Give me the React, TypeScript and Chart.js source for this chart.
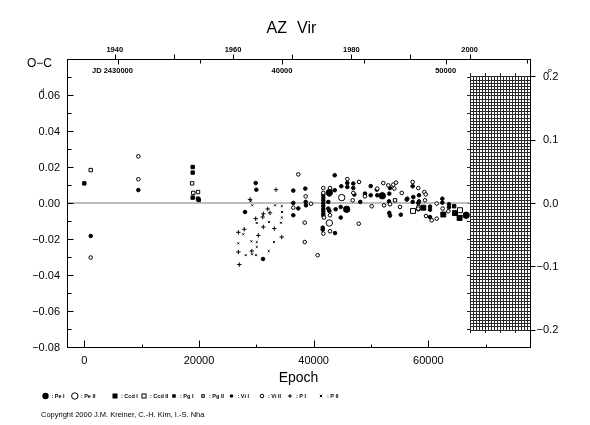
import React, { useEffect, useRef } from 'react';
import { Chart, registerables } from 'chart.js';

Chart.register(...registerables);

// ---- data: [epoch, O-C (days)] ----
const peI: number[][] = [[42730, 0.0058], [45760, -0.0035], [51970, 0.0040], [66600, -0.0068]];
const peII: number[][] = [[42730, -0.0111], [44890, 0.0030]];
const ccdI: number[][] = [[59120, -0.0026], [62610, -0.0064], [64650, -0.0056], [65450, -0.0083]];
const ccdII: number[][] = [[57330, -0.0044], [65520, -0.0040]];
const pgI: number[][] = [[0, 0.0109], [18900, 0.0200], [18900, 0.0169], [18900, 0.0030], [19830, 0.0024], [19950, 0.0017], [64500, -0.0018]];
const pgII: number[][] = [[1116, 0.0183], [18800, 0.0109], [19000, 0.0056], [19830, 0.0061], [54190, 0.0015]];
const viI: number[][] = [
  [1116, -0.0183], [9420, 0.0072], [28030, -0.0050], [29890, 0.0111], [30000, 0.0074], [31166, -0.0311],
  [36450, 0.0069], [36450, 0.0000], [36450, -0.0068], [37320, -0.0030], [38540, 0.0080], [38610, 0.0006], [38660, -0.0013],
  [41680, 0.0045], [41680, 0.0030], [41680, 0.0015], [41680, 0.0000], [41680, -0.0015], [41680, -0.0031], [41680, -0.0044],
  [41680, -0.0059], [41680, -0.0070], [41580, -0.0137], [41580, -0.0148],
  [42550, 0.0006], [42550, -0.0031], [42730, -0.0044], [42730, 0.0047], [42850, 0.0068],
  [43670, 0.0154], [43670, 0.0071], [43720, -0.0167], [43840, -0.0035],
  [44720, -0.0022], [44720, -0.0081], [44820, 0.0093], [45870, 0.0111], [45870, 0.0089],
  [46910, 0.0108], [46910, 0.0083], [47090, 0.0047], [48130, 0.0006], [48950, 0.0052],
  [49950, 0.0094], [49950, 0.0043], [51000, 0.0074], [51100, 0.0043],
  [53310, 0.0083], [53190, 0.0052], [53140, 0.0009], [53190, -0.0055], [53310, -0.0070], [55200, -0.0065],
  [56230, 0.0019], [56330, 0.0024], [57270, 0.0093], [57270, 0.0006], [57380, 0.0033],
  [58250, 0.0000], [58370, 0.0043], [58370, 0.0009], [58250, -0.0035],
  [60290, -0.0020], [60290, -0.0037], [60290, -0.0078], [62440, 0.0024], [62440, 0.0002],
  [63600, -0.0007], [63600, -0.0024],
];
const viII: number[][] = [
  [1116, -0.0303], [9420, 0.0259], [9420, 0.0132], [36450, -0.0026], [37320, 0.0159],
  [38610, 0.0037], [39540, -0.0004], [38440, -0.0109], [38440, -0.0217], [40700, -0.0290],
  [41680, 0.0083], [41680, 0.0056], [41800, -0.0081], [41680, -0.0170],
  [42850, 0.0083], [42850, -0.0157], [42850, -0.0068], [45870, 0.0133],
  [46910, 0.0056], [46810, 0.0015], [47910, 0.0117], [47860, -0.0115], [48950, 0.0037],
  [50120, -0.0018], [51100, 0.0080], [52150, 0.0111], [52270, -0.0013], [53020, 0.0098],
  [53310, -0.0007], [53890, 0.0102], [54360, 0.0113], [54060, 0.0080], [55060, -0.0022], [55360, 0.0056],
  [57270, 0.0117], [58250, 0.0083], [59300, 0.0061], [59540, 0.0048], [59420, 0.0015],
  [58250, -0.0022], [58250, -0.0031], [59590, -0.0072], [60590, -0.0096], [61460, -0.0087],
  [61460, -0.0003], [62500, -0.0031], [63480, -0.0046],
];
const pI: number[][] = [
  [26860, -0.0163], [27900, -0.0146], [26860, -0.0272], [27030, -0.0342], [28900, 0.0020], [29200, -0.0267],
  [29890, -0.0087], [30350, -0.0180], [31110, -0.0078], [31220, -0.0060], [31220, -0.0133], [31990, -0.0033],
  [32390, -0.0055], [33140, -0.0142], [33430, 0.0074], [34430, -0.0189],
];
const pII: number[][] = [
  [27730, -0.0174], [26860, -0.0224], [28150, -0.0290], [29020, 0.0010], [29300, -0.0013], [29130, -0.0213],
  [29250, -0.0285], [30070, -0.0111], [30070, -0.0217], [30070, -0.0244], [29940, -0.0290], [32160, -0.0267],
  [32210, -0.0106], [33080, -0.0217], [33260, -0.0013], [34300, -0.0110], [34430, -0.0081], [34480, -0.0050],
  [34430, -0.0017],
];

// ---- axes ----
const X_MIN = -3020, X_MAX = 77730;        // epoch
const JD_MIN = 26866, JD_MAX = 55155;      // JD - 2400000
const YR_MIN = 1931.93, YR_MAX = 2010.21;  // calendar years
const Y_MIN = -0.08, Y_MAX = 0.08;         // O-C days
const YR2 = 0.2275;                        // phase axis half range
const HATCH_START = 67270;                 // epoch of hatched area start
const leftTicks = [0.06, 0.04, 0.02, 0.0, -0.02, -0.04, -0.06, -0.08];
const rightTicks = [0.2, 0.1, 0.0, -0.1, -0.2];
const bottomTicks = [0, 20000, 40000, 60000];
const yearTicks = [1940, 1960, 1980, 2000];
const jdTicks = [40000, 50000];
const legendItems = ['Pe I', 'Pe II', 'Ccd I', 'Ccd II', 'Pg I', 'Pg II', 'Vi I', 'Vi II', 'P I', 'P II'];

const FONT = '"Liberation Sans", Arial, sans-serif';
const fmt = (v: number, d: number) => (v < 0 ? '\u2212' : '') + Math.abs(v).toFixed(d);

function drawSym(ctx: CanvasRenderingContext2D, kind: number, x: number, y: number) {
  ctx.save();
  ctx.lineWidth = 1;
  ctx.strokeStyle = '#000';
  ctx.fillStyle = '#000';
  const circ = (r: number, fill: boolean) => {
    ctx.beginPath(); ctx.arc(x, y, r, 0, Math.PI * 2);
    if (fill) ctx.fill(); else { ctx.fillStyle = '#fff'; ctx.fill(); ctx.stroke(); }
  };
  const sq = (s: number, fill: boolean) => {
    if (fill) ctx.fillRect(x - s / 2, y - s / 2, s, s);
    else { ctx.fillStyle = '#fff'; ctx.fillRect(x - s / 2, y - s / 2, s, s); ctx.strokeRect(x - s / 2 + 0.5, y - s / 2 + 0.5, s - 1, s - 1); }
  };
  switch (kind) {
    case 0: circ(3.2, true); break;
    case 1: circ(3.2, false); break;
    case 2: sq(5, true); break;
    case 3: sq(5, false); break;
    case 4: sq(3.5, true); break;
    case 5: sq(3.5, false); break;
    case 6: circ(1.8, true); break;
    case 7: circ(1.8, false); break;
    case 8: ctx.beginPath(); ctx.moveTo(x - 2, y); ctx.lineTo(x + 2, y); ctx.moveTo(x, y - 2); ctx.lineTo(x, y + 2); ctx.stroke(); break;
    case 9: ctx.beginPath(); ctx.moveTo(x - 1.2, y - 1.2); ctx.lineTo(x + 1.2, y + 1.2); ctx.moveTo(x + 1.2, y - 1.2); ctx.lineTo(x - 1.2, y + 1.2); ctx.stroke(); break;
  }
  ctx.restore();
}

const decor = {
  id: 'decor',
  beforeDatasetsDraw(chart: any) {
    const { ctx, chartArea: a, scales } = chart;
    const x = scales.x, y = scales.y, yR = scales.yR;
    ctx.save();
    // hatched region
    const hx0 = Math.round(x.getPixelForValue(HATCH_START));
    const hy0 = Math.round(yR.getPixelForValue(0.2));
    const hy1 = Math.round(yR.getPixelForValue(-0.2));
    ctx.strokeStyle = '#2a2a2a';
    ctx.lineWidth = 1;
    ctx.beginPath();
    for (let e = HATCH_START; e <= X_MAX; e += 520) {
      const px = Math.round(x.getPixelForValue(e)) + 0.5;
      ctx.moveTo(px, hy0); ctx.lineTo(px, hy1);
    }
    for (let v = -0.2; v <= 0.2 + 1e-9; v += 0.005) {
      const py = Math.round(yR.getPixelForValue(v)) + 0.5;
      ctx.moveTo(hx0, py); ctx.lineTo(a.right, py);
    }
    ctx.stroke();
    // hatch edge ticks
    ctx.beginPath();
    for (let v = -0.07; v <= 0.07 + 1e-9; v += 0.01) {
      const py = Math.round(y.getPixelForValue(v)) + 0.5;
      ctx.moveTo(hx0 - 3, py); ctx.lineTo(hx0, py);
    }
    for (let e = HATCH_START; e < X_MAX; e += 2600) {
      const px = Math.round(x.getPixelForValue(e)) + 0.5;
      ctx.moveTo(px, hy0 - 3); ctx.lineTo(px, hy0);
      ctx.moveTo(px, hy1); ctx.lineTo(px, hy1 + 3);
    }
    ctx.stroke();
    // zero line
    const y0 = y.getPixelForValue(0);
    ctx.strokeStyle = '#a8a8a8';
    ctx.lineWidth = 1.5;
    ctx.beginPath(); ctx.moveTo(a.left, y0); ctx.lineTo(hx0, y0); ctx.stroke();
    ctx.restore();
  },
  afterDraw(chart: any) {
    const { ctx, chartArea: a, scales } = chart;
    const x = scales.x, y = scales.y, yR = scales.yR, jd = scales.xJD, yr = scales.xYear;
    const L = Math.round(a.left) + 0.5, R = Math.round(a.right) + 0.5;
    const T = Math.round(a.top) + 0.5, B = Math.round(a.bottom) + 0.5;
    ctx.save();
    ctx.strokeStyle = '#000';
    ctx.lineWidth = 1;
    ctx.strokeRect(L, T, R - L, B - T);
    ctx.beginPath();
    // left ticks (inward)
    for (let i = -8; i <= 8; i++) {
      const py = Math.round(y.getPixelForValue(i * 0.01)) + 0.5;
      const len = i % 2 === 0 ? 6 : 4;
      ctx.moveTo(L, py); ctx.lineTo(L + len, py);
    }
    // bottom ticks (inward)
    for (let e = 0; e <= 70000; e += 10000) {
      const px = Math.round(x.getPixelForValue(e)) + 0.5;
      const len = e % 20000 === 0 ? 7 : 3;
      ctx.moveTo(px, B); ctx.lineTo(px, B - len);
    }
    // right ticks (outward)
    for (const v of rightTicks) {
      const py = Math.round(yR.getPixelForValue(v)) + 0.5;
      ctx.moveTo(R, py); ctx.lineTo(R + 5, py);
    }
    // top: year ticks (outward)
    for (let yv = 1940; yv <= 2000; yv += 10) {
      const px = Math.round(yr.getPixelForValue(yv)) + 0.5;
      ctx.moveTo(px, T); ctx.lineTo(px, T - 5);
    }
    // top: JD ticks (inward)
    for (let j = 30000; j <= 55000; j += 5000) {
      const px = Math.round(jd.getPixelForValue(j)) + 0.5;
      const len = j % 10000 === 0 ? 5 : 4;
      ctx.moveTo(px, T); ctx.lineTo(px, T + len);
    }
    ctx.stroke();

    ctx.fillStyle = '#000';
    // title
    ctx.font = `16px ${FONT}`;
    ctx.textBaseline = 'alphabetic';
    ctx.textAlign = 'right';
    ctx.fillText('AZ', 287, 33);
    ctx.textAlign = 'left';
    ctx.fillText('Vir', 297, 33);
    // O-C
    ctx.font = `12px ${FONT}`;
    ctx.fillText('O\u2212C', 27, 67);
    // left labels
    ctx.font = `11px ${FONT}`;
    ctx.textAlign = 'right';
    ctx.textBaseline = 'middle';
    for (const v of leftTicks) {
      ctx.fillText(fmt(v, 2), 60, y.getPixelForValue(v) + 0.5);
    }
    ctx.font = `6px ${FONT}`;
    ctx.textAlign = 'left';
    ctx.fillText('d', 41, y.getPixelForValue(0.06) - 5);
    // right labels
    ctx.font = `11px ${FONT}`;
    ctx.textAlign = 'left';
    for (const v of rightTicks) {
      const s = Math.abs(v).toFixed(1);
      const py = yR.getPixelForValue(v) + 0.5;
      ctx.fillText(s, 543, py);
      if (v < 0) {
        ctx.textAlign = 'right';
        ctx.fillText('\u2212', 543, py);
        ctx.textAlign = 'left';
      }
    }
    ctx.font = `6px ${FONT}`;
    ctx.fillText('P', 548, yR.getPixelForValue(0.2) - 5);
    // bottom labels
    ctx.font = `11px ${FONT}`;
    ctx.textAlign = 'center';
    ctx.textBaseline = 'middle';
    for (const e of bottomTicks) ctx.fillText(String(e), x.getPixelForValue(e), 361);
    ctx.font = `14px ${FONT}`;
    ctx.fillText('Epoch', (a.left + a.right) / 2, 378);
    // top labels
    ctx.font = `bold 7.5px ${FONT}`;
    for (const yv of yearTicks) ctx.fillText(String(yv), yr.getPixelForValue(yv), 50);
    for (const j of jdTicks) ctx.fillText(String(j), jd.getPixelForValue(j), 71);
    const base = 'JD 2430000';
    const num = '2430000';
    const wNum = ctx.measureText(num).width;
    const wAll = ctx.measureText(base).width;
    ctx.textAlign = 'left';
    ctx.fillText(base, jd.getPixelForValue(30000) + wNum / 2 - wAll, 71);
    // legend
    const legX = [45.5, 74.8, 115, 144, 174, 203, 231.5, 262, 290, 321];
    ctx.font = `bold 5.5px ${FONT}`;
    ctx.textAlign = 'left';
    legendItems.forEach((lab, i) => {
      drawSym(ctx, i, legX[i], 396);
      ctx.fillText(': ' + lab, legX[i] + 6, 396.5);
    });
    // copyright
    ctx.font = `7.5px ${FONT}`;
    ctx.fillText('Copyright 2000 J.M. Kreiner, C.-H. Kim, I.-S. Nha', 41, 415);
    ctx.restore();
  },
};

function mk(label: string, pts: number[][], style: string, r: number, fill: boolean) {
  return {
    label,
    data: pts.map(([ex, oc]) => ({ x: ex, y: oc })),
    pointStyle: style,
    pointRadius: r,
    pointHoverRadius: r,
    pointBackgroundColor: fill ? '#000' : '#fff',
    pointBorderColor: '#000',
    pointBorderWidth: 1,
    showLine: false,
    xAxisID: 'x',
    yAxisID: 'y',
  };
}

export default function App() {
  const ref = useRef<HTMLCanvasElement | null>(null);
  useEffect(() => {
    if (!ref.current) return;
    const hidden = { ticks: { display: false }, grid: { display: false }, border: { display: false } };
    const chart = new Chart(ref.current, {
      type: 'scatter',
      data: {
        datasets: [
          mk('P II', pII, 'crossRot', 1.3, true),
          mk('P I', pI, 'cross', 2.2, true),
          mk('Vi II', viII, 'circle', 1.8, false),
          mk('Vi I', viI, 'circle', 1.8, true),
          mk('Pg II', pgII, 'rect', 2.4, false),
          mk('Pg I', pgI, 'rect', 2.4, true),
          mk('Ccd II', ccdII, 'rect', 3.5, false),
          mk('Ccd I', ccdI, 'rect', 3.5, true),
          mk('Pe II', peII, 'circle', 3.2, false),
          mk('Pe I', peI, 'circle', 3.2, true),
        ] as any,
      },
      options: {
        responsive: false,
        animation: false,
        devicePixelRatio: 1,
        layout: { padding: 0 },
        plugins: { legend: { display: false }, tooltip: { enabled: false }, title: { display: false } },
        scales: {
          x: { type: 'linear', position: 'bottom', min: X_MIN, max: X_MAX, ...hidden, afterFit: (s: any) => { s.height = 78; } },
          xJD: { type: 'linear', axis: 'x', position: 'top', min: JD_MIN, max: JD_MAX, ...hidden, afterFit: (s: any) => { s.height = 59; } },
          xYear: { type: 'linear', axis: 'x', position: 'top', display: false, min: YR_MIN, max: YR_MAX },
          y: { type: 'linear', position: 'left', min: Y_MIN, max: Y_MAX, ...hidden, afterFit: (s: any) => { s.width = 67; } },
          yR: { type: 'linear', position: 'right', min: -YR2, max: YR2, ...hidden, afterFit: (s: any) => { s.width = 60; } },
        } as any,
      },
      plugins: [decor],
    });
    return () => chart.destroy();
  }, []);
  return (
    <div style={{ position: 'absolute', left: 0, top: 0, width: 590, height: 425, background: '#fff' }}>
      <canvas ref={ref} width={590} height={425} style={{ display: 'block', width: 590, height: 425 }} />
    </div>
  );
}
